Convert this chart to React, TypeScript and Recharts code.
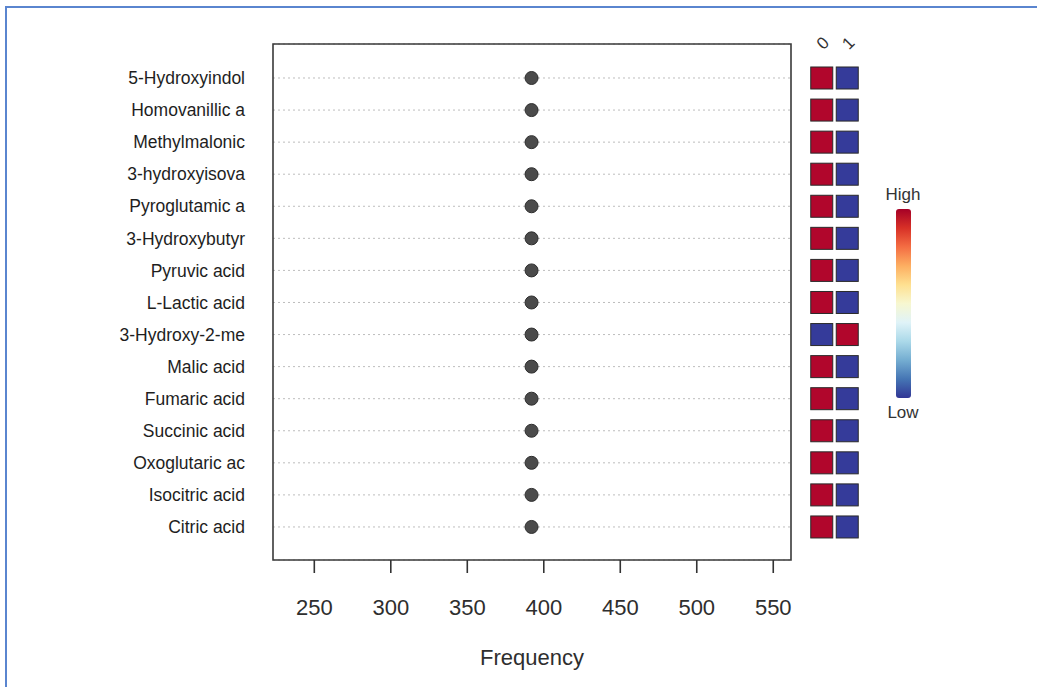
import React from 'react';
import {
  ComposedChart,
  Scatter,
  XAxis,
  YAxis,
  CartesianGrid,
  ReferenceArea,
} from 'recharts';

const compounds = [
  '5-Hydroxyindol',
  'Homovanillic a',
  'Methylmalonic ',
  '3-hydroxyisova',
  'Pyroglutamic a',
  '3-Hydroxybutyr',
  'Pyruvic acid',
  'L-Lactic acid',
  '3-Hydroxy-2-me',
  'Malic acid',
  'Fumaric acid',
  'Succinic acid',
  'Oxoglutaric ac',
  'Isocitric acid',
  'Citric acid',
];
const frequency = [392, 392, 392, 392, 392, 392, 392, 392, 392, 392, 392, 392, 392, 392, 392];
// 1 = High, 0 = Low
const group0 = [1, 1, 1, 1, 1, 1, 1, 1, 0, 1, 1, 1, 1, 1, 1];
const group1 = [0, 0, 0, 0, 0, 0, 0, 0, 1, 0, 0, 0, 0, 0, 0];
const groupLabels = ['0', '1'];
const xTicks = [250, 300, 350, 400, 450, 500, 550];
const xDomain: [number, number] = [223, 561.6];
const yDomain: [number, number] = [-1.06, 15.03];
const rowTicks = compounds.map((_, i) => i);

const FONT = '"Liberation Sans", Arial, sans-serif';
const RED = '#b1062c';
const BLUE = '#353b9a';

const dotData = compounds.map((name, i) => ({ name, idx: i, freq: frequency[i] }));
const heatData = [
  ...group0.map((v, i) => ({ col: 0, idx: i, v })),
  ...group1.map((v, i) => ({ col: 1, idx: i, v })),
];

const Square = (props: any) => {
  const { cx, cy, payload } = props;
  return (
    <rect
      x={cx - 11}
      y={cy - 11}
      width={22}
      height={22}
      fill={payload.v ? RED : BLUE}
      stroke="#2a2a2a"
      strokeWidth={1}
    />
  );
};

const Dot = (props: any) => {
  const { cx, cy } = props;
  return <circle cx={cx} cy={cy} r={6.5} fill="#4b4b4b" stroke="#2e2e2e" strokeWidth={1} />;
};

const TopTick = (props: any) => {
  const { x, y, payload } = props;
  return (
    <g transform={`translate(${x + 2},${y}) rotate(-45)`}>
      <text textAnchor="middle" dominantBaseline="middle" fontSize={17} fill="#333" fontFamily={FONT}>
        {groupLabels[payload.value]}
      </text>
    </g>
  );
};

const gradStops = ['#a50026', '#d73027', '#f46d43', '#fdae61', '#fee090', '#f7f7d0', '#e0f3f8', '#abd9e9', '#74add1', '#4575b4', '#313695'];

export default function App() {
  return (
    <div
      style={{
        position: 'absolute',
        left: 0,
        top: 0,
        width: 1037,
        height: 687,
        overflow: 'hidden',
        background: '#fff',
        fontFamily: FONT,
      }}
    >
      <div
        style={{
          position: 'absolute',
          left: 5,
          top: 6,
          width: 1200,
          height: 900,
          border: '2px solid #5a85cf',
          boxSizing: 'border-box',
        }}
      />
      <div style={{ position: 'absolute', left: 0, top: 0 }}>
        <ComposedChart
          width={1037}
          height={687}
          data={dotData}
          margin={{ top: 44, right: 246, bottom: 19, left: 0 }}
        >
          <CartesianGrid horizontal vertical={false} stroke="#bdbdbd" strokeDasharray="2 3" />
          <XAxis
            type="number"
            dataKey="freq"
            domain={xDomain}
            ticks={xTicks}
            allowDataOverflow
            height={108}
            axisLine={false}
            tickLine={{ stroke: '#333', strokeWidth: 1.6 }}
            tickSize={13}
            tickMargin={26}
            tick={{ fontSize: 22, fill: '#2e2e2e', fontFamily: FONT }}
            label={{ value: 'Frequency', position: 'insideBottom', offset: 3, fontSize: 22, fill: '#2e2e2e', fontFamily: FONT }}
          />
          <YAxis
            type="number"
            dataKey="idx"
            domain={yDomain}
            ticks={rowTicks}
            reversed
            allowDataOverflow
            interval={0}
            width={273}
            axisLine={false}
            tickLine={false}
            tickSize={0}
            tickMargin={28}
            tickFormatter={(i: number) => compounds[i]}
            tick={{ fontSize: 17.5, fill: '#1e1e1e', fontFamily: FONT }}
          />
          <ReferenceArea
            x1={xDomain[0]}
            x2={xDomain[1]}
            y1={yDomain[0]}
            y2={yDomain[1]}
            fill="none"
            stroke="#3a3a3a"
            strokeWidth={1.6}
            ifOverflow="visible"
          />
          <Scatter dataKey="freq" data={dotData} shape={Dot} isAnimationActive={false} />
        </ComposedChart>
      </div>
      <div style={{ position: 'absolute', left: 800, top: 0 }}>
        <ComposedChart width={80} height={687} margin={{ top: 24, right: 20, bottom: 127, left: 9 }}>
          <XAxis
            type="number"
            dataKey="col"
            orientation="top"
            domain={[-0.5, 1.5]}
            ticks={[0, 1]}
            height={20}
            axisLine={false}
            tickLine={false}
            tickSize={0}
            tickMargin={0}
            tick={TopTick}
          />
          <YAxis type="number" dataKey="idx" domain={yDomain} reversed hide allowDataOverflow />
          <Scatter data={heatData} dataKey="idx" shape={Square} isAnimationActive={false} />
        </ComposedChart>
      </div>
      <div style={{ position: 'absolute', left: 870, top: 180 }}>
        <svg width={70} height={250}>
          <defs>
            <linearGradient id="rdylbu" x1="0" y1="0" x2="0" y2="1">
              {gradStops.map((c, i) => (
                <stop key={i} offset={`${(i / (gradStops.length - 1)) * 100}%`} stopColor={c} />
              ))}
            </linearGradient>
          </defs>
          <text x={33} y={20} textAnchor="middle" fontSize={17} fill="#333" fontFamily={FONT}>
            High
          </text>
          <rect x={26} y={29} width={15} height={189} rx={3} fill="url(#rdylbu)" />
          <text x={33} y={238} textAnchor="middle" fontSize={17} fill="#333" fontFamily={FONT}>
            Low
          </text>
        </svg>
      </div>
    </div>
  );
}
